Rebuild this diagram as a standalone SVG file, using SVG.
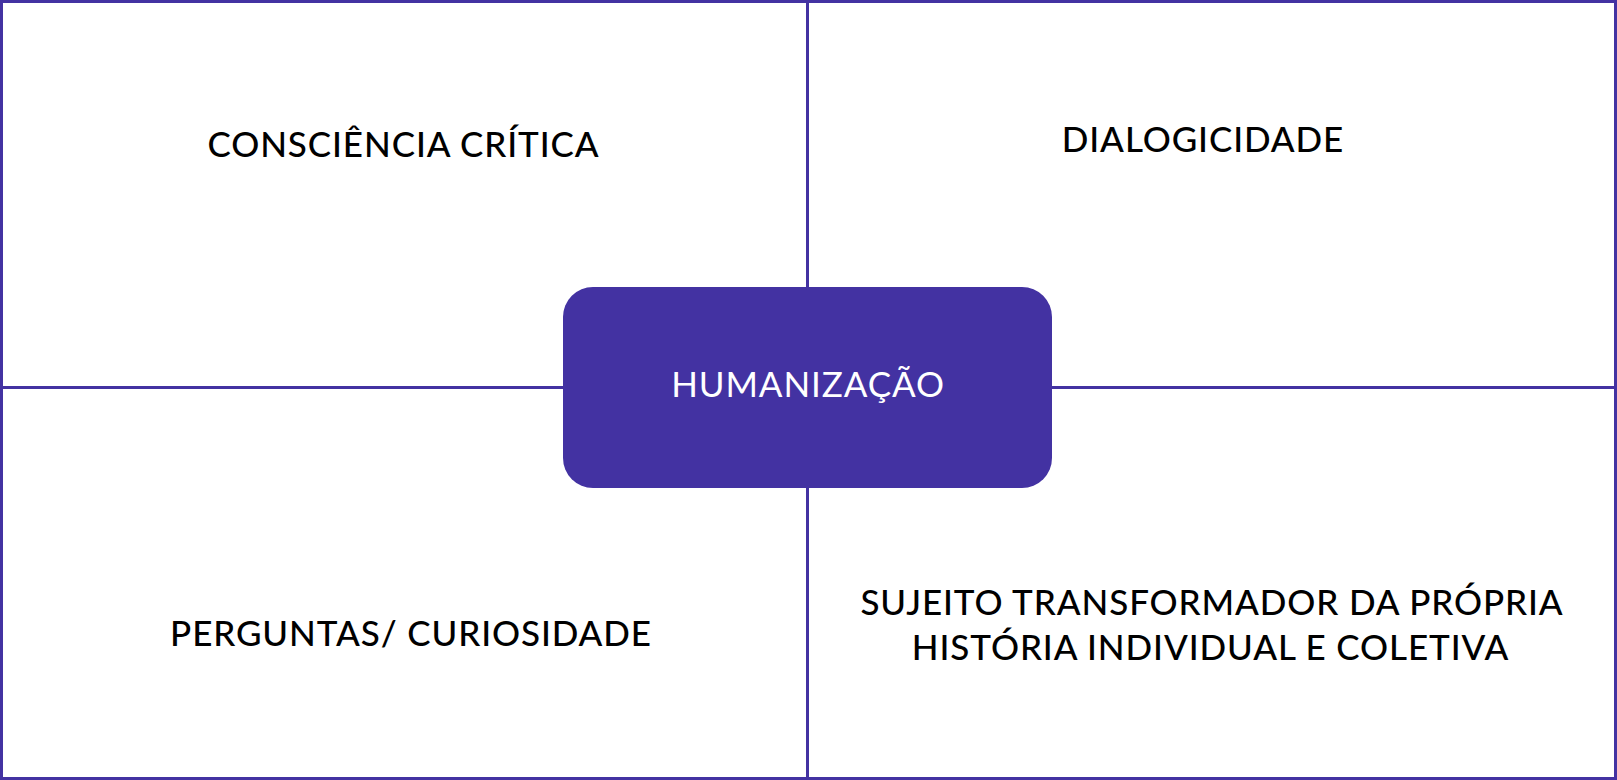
<svg xmlns="http://www.w3.org/2000/svg" width="1617" height="780" viewBox="0 0 1617 780">
<style>
.ln{stroke:#4332A2;stroke-width:3;fill:none}
.lbl{font-family:Lato,"Liberation Sans",sans-serif;font-size:35px;font-weight:500;letter-spacing:0.9px;fill:#000;text-anchor:middle}
.ctr{font-family:Lato,"Liberation Sans",sans-serif;font-size:35px;letter-spacing:0.9px;fill:#fff;text-anchor:middle}
</style>
<rect x="0" y="0" width="1617" height="780" fill="#fff"/>
<g id="connectors">
<line class="ln" x1="807.5" y1="0" x2="807.5" y2="780"/>
<line class="ln" x1="0" y1="387.5" x2="1617" y2="387.5"/>
<rect class="ln" x="1.5" y="1.5" width="1614" height="777"/>
</g>
<g id="n1"><text class="lbl" x="403.5" y="157">CONSCIÊNCIA CRÍTICA</text></g>
<g id="n2"><text class="lbl" x="1203" y="152">DIALOGICIDADE</text></g>
<g id="n3"><text class="lbl" x="411" y="646">PERGUNTAS/ CURIOSIDADE</text></g>
<g id="n4"><text class="lbl" x="1212" y="615">SUJEITO TRANSFORMADOR DA PRÓPRIA</text><text class="lbl" x="1210.5" y="660">HISTÓRIA INDIVIDUAL E COLETIVA</text></g>
<g id="center"><rect x="563" y="287" width="489" height="201" rx="30" fill="#4332A2"/><text class="ctr" x="808" y="397">HUMANIZAÇÃO</text></g>
</svg>
